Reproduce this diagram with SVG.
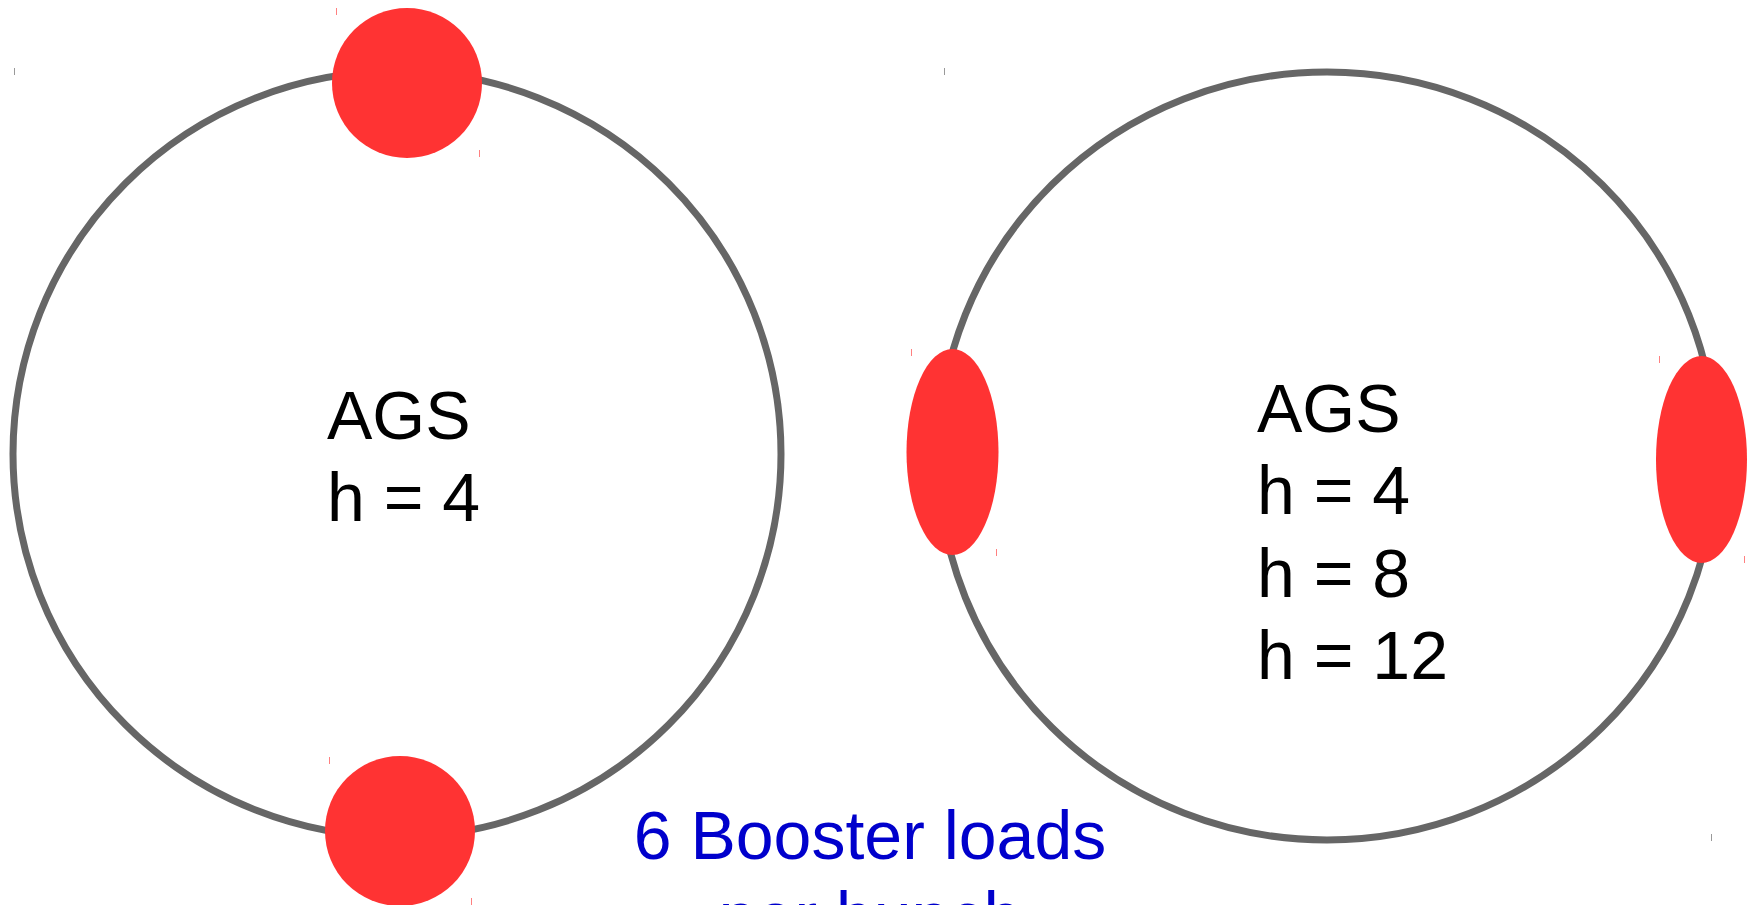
<svg xmlns="http://www.w3.org/2000/svg" width="1756" height="905" viewBox="0 0 1756 905">
  <style>
    .ring { fill: none; stroke: #666666; stroke-width: 7; }
    .load { fill: #ff3333; stroke: none; }
    .lbl { font-family: "Liberation Sans", Arial, sans-serif; font-size: 68px; fill: #000000; }
    .note { font-family: "Liberation Sans", Arial, sans-serif; font-size: 68px; fill: #0000cc; }
    .tg { stroke: #999999; stroke-width: 1; }
    .tr { stroke: #ff8080; stroke-width: 1; }
  </style>
  <rect width="1756" height="905" fill="#ffffff"/>

  <g id="ring-left">
    <ellipse class="ring" cx="397" cy="454" rx="384" ry="383"/>
    <line class="tg" x1="14.5" y1="68" x2="14.5" y2="75"/>
    <text class="lbl" x="327" y="439">AGS</text>
    <text class="lbl" x="327" y="521">h = 4</text>
  </g>

  <g id="ring-right">
    <ellipse class="ring" cx="1327" cy="456" rx="389" ry="384"/>
    <line class="tg" x1="944.5" y1="68" x2="944.5" y2="75"/>
    <line class="tg" x1="1711.5" y1="834" x2="1711.5" y2="841"/>
    <text class="lbl" x="1257" y="432">AGS</text>
    <text class="lbl" x="1257" y="514">h = 4</text>
    <text class="lbl" x="1257" y="597">h = 8</text>
    <text class="lbl" x="1257" y="679">h = 12</text>
  </g>

  <g id="load-top">
    <ellipse class="load" cx="407" cy="83" rx="75" ry="75"/>
    <line class="tr" x1="336.5" y1="8" x2="336.5" y2="15"/>
    <line class="tr" x1="479.5" y1="150" x2="479.5" y2="157"/>
  </g>

  <g id="load-bottom">
    <ellipse class="load" cx="400" cy="831" rx="75" ry="75"/>
    <line class="tr" x1="329.5" y1="757" x2="329.5" y2="764"/>
    <line class="tr" x1="471.5" y1="898" x2="471.5" y2="905"/>
  </g>

  <g id="load-left">
    <ellipse class="load" cx="952.5" cy="452" rx="46" ry="103"/>
    <line class="tr" x1="911.5" y1="349" x2="911.5" y2="356"/>
    <line class="tr" x1="996.5" y1="549" x2="996.5" y2="556"/>
  </g>

  <g id="load-right">
    <ellipse class="load" cx="1701.5" cy="459.5" rx="45.5" ry="103.5"/>
    <line class="tr" x1="1659.5" y1="356" x2="1659.5" y2="363"/>
    <line class="tr" x1="1744.5" y1="556" x2="1744.5" y2="563"/>
  </g>

  <g id="caption">
    <text class="note" x="870" y="859" text-anchor="middle">6 Booster loads</text>
    <text class="note" x="870" y="940" text-anchor="middle">per bunch</text>
  </g>
</svg>
